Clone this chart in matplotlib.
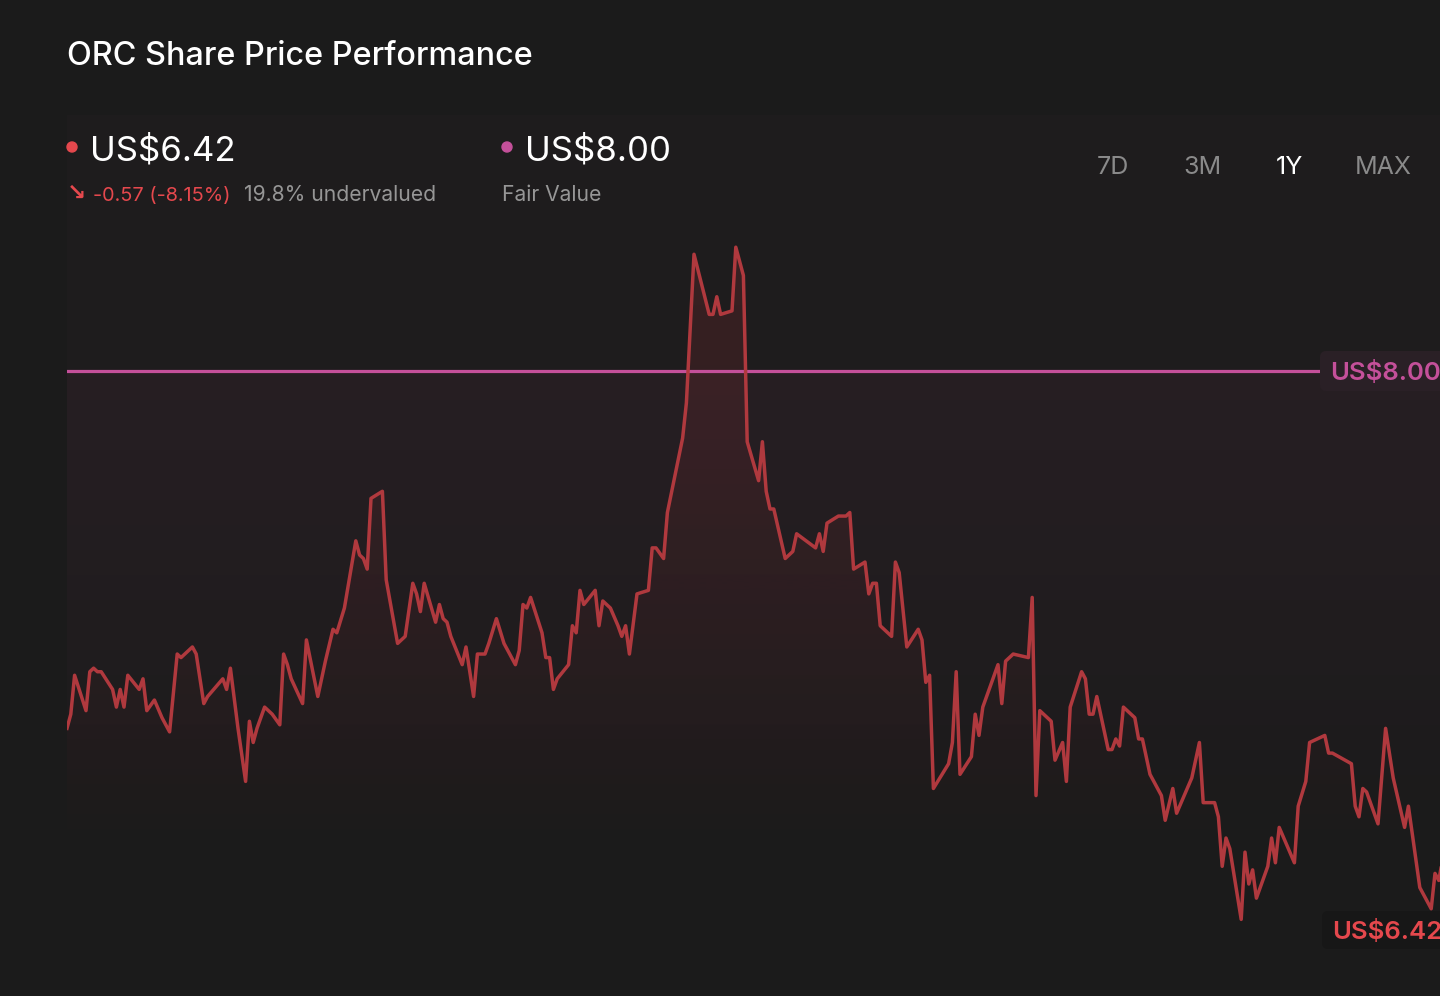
import numpy as np
import matplotlib
matplotlib.use("Agg")
import matplotlib.pyplot as plt
from matplotlib.patches import FancyBboxPatch, Circle, PathPatch
from matplotlib.transforms import IdentityTransform

# ---------------- data ----------------
days = [0, 1, 2, 5, 6, 7, 8, 9, 12, 13, 14, 15, 16, 19, 20, 21, 23, 25, 27, 29,
        30, 33, 34, 36, 37, 41, 42, 43, 45, 47, 48, 49, 50, 52, 54, 56, 57, 58, 59, 62,
        63, 66, 68, 70, 71, 73, 76, 77, 78, 79, 80, 83, 84, 87, 89, 91, 92, 93, 94, 97,
        98, 99, 100, 101, 104, 105, 107, 108, 110, 111, 113, 115, 118, 119, 120, 121, 122, 125, 126, 127,
        128, 129, 132, 133, 134, 135, 136, 139, 140, 141, 143, 145, 146, 147, 148, 150, 153, 154, 155, 157,
        158, 162, 163, 165, 169, 170, 171, 172, 175, 176, 177, 178, 179, 182, 183, 184, 185, 186, 189, 191,
        192, 197, 198, 199, 200, 203, 205, 206, 207, 210, 211, 212, 213, 214, 217, 218, 219, 221, 224, 225,
        226, 227, 228, 232, 233, 234, 235, 238, 239, 240, 241, 245, 246, 247, 249, 253, 254, 255, 256, 259,
        260, 262, 263, 264, 267, 268, 269, 270, 271, 274, 275, 276, 277, 278, 281, 282, 283, 285, 288, 289,
        291, 292, 296, 298, 299, 302, 303, 304, 305, 306, 309, 310, 311, 312, 313, 316, 317, 318, 319, 323,
        324, 326, 327, 331, 332, 333, 338, 339, 340, 341, 342, 345, 347, 349, 352, 353, 356, 359, 360, 361,
        362, 365]
prices = [6.99, 7.03, 7.14, 7.04, 7.15, 7.16, 7.15, 7.15, 7.10, 7.05, 7.10, 7.05, 7.14, 7.10, 7.13, 7.04, 7.07, 7.02, 6.98, 7.20,
          7.19, 7.22, 7.20, 7.06, 7.08, 7.13, 7.10, 7.16, 6.99, 6.84, 7.01, 6.95, 6.99, 7.05, 7.03, 7.00, 7.20, 7.17, 7.13, 7.06,
          7.24, 7.08, 7.18, 7.27, 7.26, 7.33, 7.52, 7.48, 7.47, 7.44, 7.64, 7.66, 7.41, 7.23, 7.25, 7.40, 7.37, 7.32, 7.40, 7.29,
          7.34, 7.30, 7.29, 7.25, 7.17, 7.22, 7.08, 7.20, 7.20, 7.23, 7.30, 7.23, 7.17, 7.21, 7.34, 7.33, 7.36, 7.26, 7.19, 7.19,
          7.10, 7.13, 7.17, 7.28, 7.26, 7.38, 7.34, 7.38, 7.28, 7.35, 7.33, 7.28, 7.25, 7.28, 7.20, 7.37, 7.38, 7.50, 7.50, 7.47,
          7.60, 7.81, 7.91, 8.33, 8.16, 8.16, 8.21, 8.16, 8.17, 8.35, 8.31, 8.27, 7.80, 7.69, 7.80, 7.66, 7.61, 7.61, 7.47, 7.49,
          7.54, 7.50, 7.54, 7.49, 7.57, 7.59, 7.59, 7.60, 7.44, 7.46, 7.37, 7.40, 7.40, 7.28, 7.25, 7.46, 7.43, 7.22, 7.27, 7.24,
          7.12, 7.14, 6.82, 6.89, 6.95, 7.15, 6.86, 6.91, 7.03, 6.97, 7.05, 7.17, 7.06, 7.18, 7.20, 7.19, 7.36, 6.80, 7.04, 7.01,
          6.90, 6.95, 6.84, 7.05, 7.15, 7.13, 7.03, 7.03, 7.08, 6.93, 6.93, 6.96, 6.94, 7.05, 7.02, 6.96, 6.96, 6.86, 6.80, 6.73,
          6.82, 6.75, 6.85, 6.95, 6.78, 6.78, 6.74, 6.60, 6.68, 6.65, 6.45, 6.64, 6.55, 6.59, 6.51, 6.60, 6.68, 6.61, 6.71, 6.61,
          6.77, 6.84, 6.95, 6.97, 6.92, 6.92, 6.89, 6.77, 6.74, 6.82, 6.81, 6.72, 6.99, 6.85, 6.71, 6.77, 6.54, 6.48, 6.58, 6.56,
          6.62, 6.42]

fair_value = 8.00
last_price = 6.42
change_abs = -0.57
change_pct = -8.15
undervalued_pct = 19.8
title = "ORC Share Price Performance"
periods = ["7D", "3M", "1Y", "MAX"]
active_period = "1Y"

# ---------------- style ----------------
BG = "#1b1b1b"
RED = "#e5484d"
LINE_RED = "#b0393e"
PINK = "#c4509a"
GREY = "#969696"
FONT = ["Inter", "DejaVu Sans"]
plt.rcParams["font.family"] = FONT

W, H = 1440, 996
fig = plt.figure(figsize=(W / 100, H / 100), dpi=100, facecolor=BG)


def fx(px):
    return px / W


def fy(py):
    return 1 - py / H


# chart axes (right part extends past the figure edge, as in the cropped reference)
left_px, right_px, top_px, bot_px = 67, 1454, 115, 960
ax = fig.add_axes([fx(left_px), fy(bot_px), (right_px - left_px) / W, (bot_px - top_px) / H])
ax.set_facecolor("none")
ymax, ymin = 8.7236, 6.3352
ax.set_xlim(0, 365)
ax.set_ylim(ymin, ymax)
ax.axis("off")

# background tint (fair-value zone)
n = 400
vals = np.linspace(ymax, ymin, n)
tint = np.zeros((n, 1, 4))
tint[..., 0], tint[..., 1], tint[..., 2] = 0.75, 0.30, 0.55
fade_bottom = 6.645
alpha = np.where(vals >= fair_value, 0.025,
                 0.075 * np.clip((vals - fade_bottom) / (fair_value - fade_bottom), 0, 1))
tint[:, 0, 3] = alpha
ax.imshow(tint, extent=[0, 380, ymin, ymax], aspect="auto", origin="upper", zorder=0,
          interpolation="bilinear")

# gradient fill under the price line
pmax = max(prices)
gv = np.linspace(pmax, ymin, n)
grad = np.zeros((n, 1, 4))
grad[..., 0], grad[..., 1], grad[..., 2] = 0.80, 0.22, 0.25
grad[:, 0, 3] = 0.16 * np.clip((gv - 6.62) / (pmax - 6.62), 0, 1)
poly = ax.fill_between(days, prices, ymin, color="none", lw=0)
clip = PathPatch(poly.get_paths()[0], transform=ax.transData, facecolor="none", edgecolor="none")
ax.add_patch(clip)
im = ax.imshow(grad, extent=[0, 365, ymin, pmax], aspect="auto", origin="upper", zorder=1,
               interpolation="bilinear")
im.set_clip_path(clip)

# fair value line
label_left_px = 1320
ax.axhline(fair_value, xmin=0, xmax=(label_left_px - left_px) / (right_px - left_px),
           color=PINK, lw=2.3, zorder=3)

# price line
ax.plot(days, prices, color=LINE_RED, lw=2.5, zorder=4, solid_joinstyle="round")

# ---------------- labels at right ----------------
def val_to_px(v):
    # value -> pixel y (from top)
    return top_px + (ymax - v) / (ymax - ymin) * (bot_px - top_px)


yfv = val_to_px(fair_value)
fig.add_artist(FancyBboxPatch((label_left_px, H - (yfv + 20)), 160, 40,
                              boxstyle="round,pad=0,rounding_size=6",
                              transform=IdentityTransform(), facecolor="#2a2026",
                              edgecolor="none", zorder=5))
fig.text(fx(1330), fy(yfv + 9), f"US${fair_value:.2f}", color=PINK, fontsize=18.5,
         fontweight="semibold", ha="left", va="baseline", zorder=6)

ylp = 930
fig.add_artist(FancyBboxPatch((1322, H - (ylp + 19)), 160, 38,
                              boxstyle="round,pad=0,rounding_size=6",
                              transform=IdentityTransform(), facecolor="#171717",
                              edgecolor="none", zorder=5))
fig.text(fx(1332), fy(ylp + 9), f"US${last_price:.2f}", color=RED, fontsize=18.5,
         fontweight="semibold", ha="left", va="baseline", zorder=6)

# ---------------- header ----------------
fig.text(fx(67), fy(65), title, color="white", fontsize=23.3, fontweight="medium",
         ha="left", va="baseline")

fig.add_artist(Circle((72, H - 147), 5, transform=IdentityTransform(), color=RED))
fig.text(fx(90), fy(161), f"US${last_price:.2f}", color="white", fontsize=25,
         ha="left", va="baseline")
fig.text(fx(67), fy(200), "\u2198", color=RED, fontsize=16.5, ha="left", va="baseline",
         family=["DejaVu Sans"], fontweight="bold")
fig.text(fx(93), fy(201), f"{change_abs:.2f} ({change_pct:.2f}%)", color=RED, fontsize=14.3,
         ha="left", va="baseline")
fig.text(fx(244), fy(201), f"{undervalued_pct:.1f}% undervalued", color=GREY, fontsize=15.2,
         ha="left", va="baseline")

fig.add_artist(Circle((507, H - 147), 5, transform=IdentityTransform(), color=PINK))
fig.text(fx(525), fy(161), f"US${fair_value:.2f}", color="white", fontsize=25,
         ha="left", va="baseline")
fig.text(fx(502), fy(201), "Fair Value", color=GREY, fontsize=15.2, ha="left", va="baseline")

period_x = [1097, 1183, 1276, 1355]
for lab, x in zip(periods, period_x):
    fig.text(fx(x), fy(174), lab, color="white" if lab == active_period else "#8a8a8a",
             fontsize=18, ha="left", va="baseline")

fig.savefig("out.png", dpi=100, facecolor=BG)
